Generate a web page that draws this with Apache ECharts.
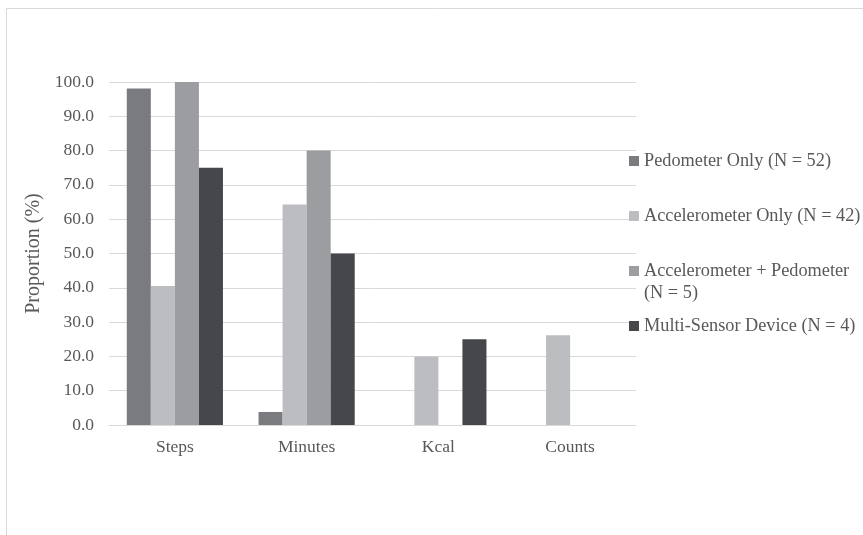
<!DOCTYPE html>
<html><head><meta charset="utf-8">
<script src="https://cdn.jsdelivr.net/npm/echarts@6/dist/echarts.min.js"></script>
<style>html,body{margin:0;padding:0;background:#fff}#c{width:863px;height:535px}</style>
</head><body><div id="c"></div>
<script>
var categories = ['Steps', 'Minutes', 'Kcal', 'Counts'];
var seriesNames = ['Pedometer Only (N = 52)', 'Accelerometer Only (N = 42)', 'Accelerometer + Pedometer (N = 5)', 'Multi-Sensor Device (N = 4)'];
var pedometerOnly = [98.1, 3.8, 0, 0];
var accelerometerOnly = [40.5, 64.3, 20.0, 26.2];
var accelPlusPedometer = [100.0, 80.0, 0, 0];
var multiSensor = [75.0, 50.0, 25.0, 0];
var yTicks = [0, 10, 20, 30, 40, 50, 60, 70, 80, 90, 100];
var colors = ['#7a7b7f', '#bcbdc1', '#9c9da1', '#46474a'];
var values = [pedometerOnly, accelerometerOnly, accelPlusPedometer, multiSensor];

var font = '"Liberation Serif", "Times New Roman", serif';
var legendTops = [150, 205, 238, 315];
var legends = seriesNames.map(function (n, i) {
  var l = {
    orient: 'vertical', left: 629, top: legendTops[i], padding: 0,
    itemWidth: 10, itemHeight: 10, selectedMode: false,
    icon: 'rect', data: [n],
    textStyle: { fontFamily: font, fontSize: 18.3, color: '#595959', lineHeight: 22 }
  };
  if (i === 2) {
    l.formatter = function () { return '\u00a0\nAccelerometer + Pedometer\n(N = 5)'; };
  }
  return l;
});

var chart = echarts.init(document.getElementById('c'));
chart.setOption({
  animation: false,
  backgroundColor: '#fff',
  color: colors,
  graphic: [{ type: 'rect', shape: { x: 6.5, y: 8.5, width: 1000, height: 1000 }, style: { fill: 'none', stroke: '#d9d9d9', lineWidth: 1 }, silent: true }],
  legend: legends,
  grid: { left: 109, right: 227, top: 82, bottom: 110, containLabel: false },
  xAxis: {
    type: 'category', data: categories,
    axisLine: { show: true, lineStyle: { color: '#d9d9d9', width: 1 } },
    axisTick: { show: false },
    axisLabel: { fontFamily: font, fontSize: 17.5, color: '#595959', margin: 13 }
  },
  yAxis: {
    type: 'value', min: 0, max: 100, interval: 10,
    name: 'Proportion (%)', nameLocation: 'middle', nameGap: 59, nameRotate: 90,
    nameTextStyle: { fontFamily: font, fontSize: 20, color: '#595959' },
    axisLine: { show: false }, axisTick: { show: false },
    splitLine: { lineStyle: { color: '#d9d9d9', width: 1 } },
    axisLabel: { fontFamily: font, fontSize: 17.5, color: '#595959', margin: 15,
      formatter: function (v) { return yTicks.indexOf(v) >= 0 ? v.toFixed(1) : ''; } }
  },
  series: seriesNames.map(function (n, i) {
    return { name: n, type: 'bar', data: values[i], barGap: '0%', barCategoryGap: '27%',
      itemStyle: { color: colors[i] } };
  })
});
</script></body></html>
